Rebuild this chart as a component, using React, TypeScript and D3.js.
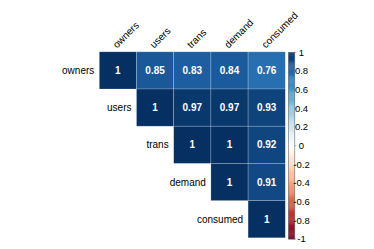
import * as d3 from "d3";
import { useEffect, useRef } from "react";

const variables = ["owners", "users", "trans", "demand", "consumed"];
// upper triangle correlation matrix (row i, col j >= i)
const corr = [
  [1, 0.85, 0.83, 0.84, 0.76],
  [null, 1, 0.97, 0.97, 0.93],
  [null, null, 1, 1, 0.92],
  [null, null, null, 1, 0.91],
  [null, null, null, null, 1],
];
const legendTicks = [1, 0.8, 0.6, 0.4, 0.2, 0, -0.2, -0.4, -0.6, -0.8, -1];
const rdbu = ["#67001F", "#B2182B", "#D6604D", "#F4A582", "#FDDBC7", "#FFFFFF",
  "#D1E5F0", "#92C5DE", "#4393C3", "#2166AC", "#053061"];

export default function App() {
  const ref = useRef<SVGSVGElement>(null);

  useEffect(() => {
    if (!ref.current) return;
    const svg = d3.select(ref.current);
    svg.selectAll("*").remove();

    const width = 374;
    const height = 249;
    svg.attr("width", width).attr("height", height);

    const font = "Liberation Sans, Arial, sans-serif";
    const left = 99.3, top = 51.8, size = 186;

    const x = d3.scaleBand().domain(variables).range([left, left + size]);
    const y = d3.scaleBand().domain(variables).range([top, top + size]);
    const color = d3.scaleLinear<string>()
      .domain(d3.range(11).map(i => -1 + i * 0.2))
      .range(rdbu)
      .interpolate(d3.interpolateRgb);

    const cells: { r: string; c: string; v: number }[] = [];
    corr.forEach((row, i) => row.forEach((v, j) => {
      if (v !== null) cells.push({ r: variables[i], c: variables[j], v: v as number });
    }));

    const g = svg.append("g");
    g.selectAll("rect.cell")
      .data(cells)
      .enter()
      .append("rect")
      .attr("class", "cell")
      .attr("x", d => x(d.c)!)
      .attr("y", d => y(d.r)!)
      .attr("width", x.bandwidth())
      .attr("height", y.bandwidth())
      .attr("fill", d => color(d.v))
      .attr("stroke", "rgba(255,255,255,0.35)")
      .attr("stroke-width", 0.6);

    g.selectAll("text.val")
      .data(cells)
      .enter()
      .append("text")
      .attr("x", d => x(d.c)! + x.bandwidth() / 2)
      .attr("y", d => y(d.r)! + y.bandwidth() / 2)
      .attr("dy", "0.35em")
      .attr("text-anchor", "middle")
      .attr("fill", "#fff")
      .attr("font-family", font)
      .attr("font-weight", "bold")
      .attr("font-size", "10px")
      .text(d => String(d.v));

    // row labels at the diagonal
    g.selectAll("text.row")
      .data(variables)
      .enter()
      .append("text")
      .attr("x", d => x(d)! - 5)
      .attr("y", d => y(d)! + y.bandwidth() / 2)
      .attr("dy", "0.35em")
      .attr("text-anchor", "end")
      .attr("fill", "#000")
      .attr("font-family", font)
      .attr("font-size", "10px")
      .text(d => d);

    // column labels rotated
    g.selectAll("text.col")
      .data(variables)
      .enter()
      .append("text")
      .attr("transform", d => `translate(${x(d)! + x.bandwidth() / 2 - 1},${top - 3}) rotate(-45)`)
      .attr("text-anchor", "start")
      .attr("fill", "#000")
      .attr("font-family", font)
      .attr("font-size", "10px")
      .text(d => d);

    // colour legend
    const lx = 288.4, lw = 6.4, ltop = 52.3, lbot = 239;
    const ly = d3.scaleLinear().domain([1, -1]).range([ltop, lbot]);
    const steps = d3.range(200).map(i => -1 + (i + 0.5) * 0.01);
    const leg = svg.append("g");
    leg.selectAll("rect")
      .data(steps)
      .enter()
      .append("rect")
      .attr("x", lx)
      .attr("y", d => ly(d + 0.005))
      .attr("width", lw)
      .attr("height", ly(0) - ly(0.01) + 0.3)
      .attr("fill", d => color(d));
    leg.append("rect")
      .attr("x", lx)
      .attr("y", ltop)
      .attr("width", lw)
      .attr("height", lbot - ltop)
      .attr("fill", "none")
      .attr("stroke", "#666")
      .attr("stroke-width", 0.6);
    leg.selectAll("line.tick")
      .data(legendTicks)
      .enter()
      .append("line")
      .attr("x1", lx + lw)
      .attr("x2", lx + lw + 1.5)
      .attr("y1", d => ly(d))
      .attr("y2", d => ly(d))
      .attr("stroke", "#777")
      .attr("stroke-width", 0.6);
    leg.selectAll("text")
      .data(legendTicks)
      .enter()
      .append("text")
      .attr("x", 301.5)
      .attr("y", d => ly(d))
      .attr("dy", "0.35em")
      .attr("text-anchor", "middle")
      .attr("fill", "#000")
      .attr("font-family", font)
      .attr("font-size", "9.5px")
      .text(d => String(d));
  }, []);

  return <svg ref={ref} style={{ position: "absolute", left: 0, top: 0 }} />;
}
